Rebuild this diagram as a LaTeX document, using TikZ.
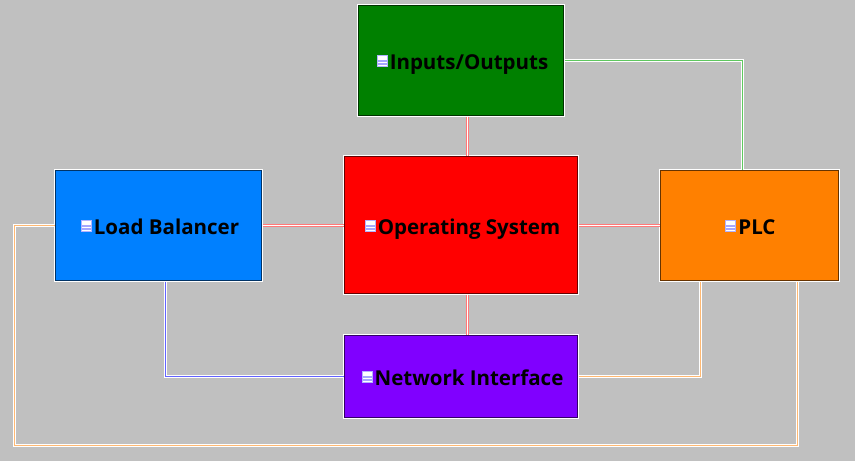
\documentclass[tikz,border=0pt]{standalone}
\usepackage{fontspec}
\setmainfont{Open Sans}
\usetikzlibrary{positioning}

\definecolor{panelgray}{RGB}{192,192,192}
\definecolor{boxgreen}{RGB}{0,128,0}
\definecolor{boxred}{RGB}{255,0,0}
\definecolor{boxblue}{RGB}{0,128,255}
\definecolor{boxorange}{RGB}{255,128,0}
\definecolor{boxviolet}{RGB}{128,0,255}
\definecolor{wirered}{RGB}{255,120,120}
\definecolor{wiregreen}{RGB}{95,200,95}
\definecolor{wireblue}{RGB}{100,100,255}
\definecolor{wireorange}{RGB}{255,185,115}

\begin{document}
\begin{tikzpicture}[
  x=1pt, y=-1pt,
  box/.style={rectangle, draw=white, line width=1pt, inner sep=0pt, outer sep=0pt,
    path picture={\draw[black, opacity=0.6, line width=3.4pt]
      (path picture bounding box.south west) rectangle (path picture bounding box.north east);}},
  boxtext/.style={font=\fontsize{20.5}{24}\selectfont\bfseries, inner sep=0pt, anchor=base, text=black},
  icon/.style={rectangle, draw=white!70!blue, fill=white, line width=0.8pt, minimum width=10pt,
    minimum height=11pt, inner sep=0pt, left=2pt of #1.base west, yshift=8.5pt,
    path picture={\fill[blue!35!white] ([yshift=1.5pt]path picture bounding box.south west)
      rectangle ([yshift=3pt]path picture bounding box.south east);
      \fill[blue!35!white] ([yshift=4.5pt]path picture bounding box.south west)
      rectangle ([yshift=6pt]path picture bounding box.south east);}},
  wire/.style={draw=white, line width=0.8pt, double=#1, double distance=1.2pt},
  wirered/.style={draw=wirered, line width=1pt, double=white, double distance=1pt}
]
\fill[panelgray] (0,0) rectangle (855,461);
\useasboundingbox (0,0) rectangle (855,461);

% the five boxes
\node[box, fill=boxgreen, minimum width=207pt, minimum height=112pt] (inputs) at (461,60.5) {};
\node[box, fill=boxred, minimum width=235pt, minimum height=139pt] (opsys) at (461,225) {};
\node[box, fill=boxblue, minimum width=208pt, minimum height=112pt] (balancer) at (158.5,225.5) {};
\node[box, fill=boxorange, minimum width=180pt, minimum height=112pt] (plc) at (749.5,225.5) {};
\node[box, fill=boxviolet, minimum width=235pt, minimum height=84pt] (network) at (461,376.5) {};

% texts and their small icons
\node[boxtext] (inputstext) at (469,69) {Inputs/Outputs};
\node[icon=inputstext] (inputsicon) {};
\node[boxtext] (opsystext) at (469,234) {Operating System};
\node[icon=opsystext] (opsysicon) {};
\node[boxtext] (balancertext) at (166.5,234) {Load Balancer};
\node[icon=balancertext] (balancericon) {};
\node[boxtext] (plctext) at (757,234) {PLC};
\node[icon=plctext] (plcicon) {};
\node[boxtext] (networktext) at (469,385) {Network Interface};
\node[icon=networktext] (networkicon) {};

% connectors
\coordinate (loopcorner) at (14.5,445.5);
\draw[wirered] ([xshift=6.5pt]inputs.south) -- ([xshift=6.5pt]opsys.north);
\draw[wirered] ([xshift=6.5pt]opsys.south) -- ([xshift=6.5pt]network.north);
\draw[wirered] (balancer.east) -- (opsys.west |- balancer.east);
\draw[wirered] (opsys.east |- plc.west) -- (plc.west);
\draw[wire=wiregreen] (inputs.east) -| ([xshift=-7pt]plc.north);
\draw[wire=wireblue] ([xshift=7pt]balancer.south) |- (network.west);
\draw[wire=wireorange] (network.east) -| ([xshift=-49pt]plc.south);
\draw[wire=wireorange] (balancer.west) -| (loopcorner) -| ([xshift=48pt]plc.south);
\end{tikzpicture}
\end{document}
